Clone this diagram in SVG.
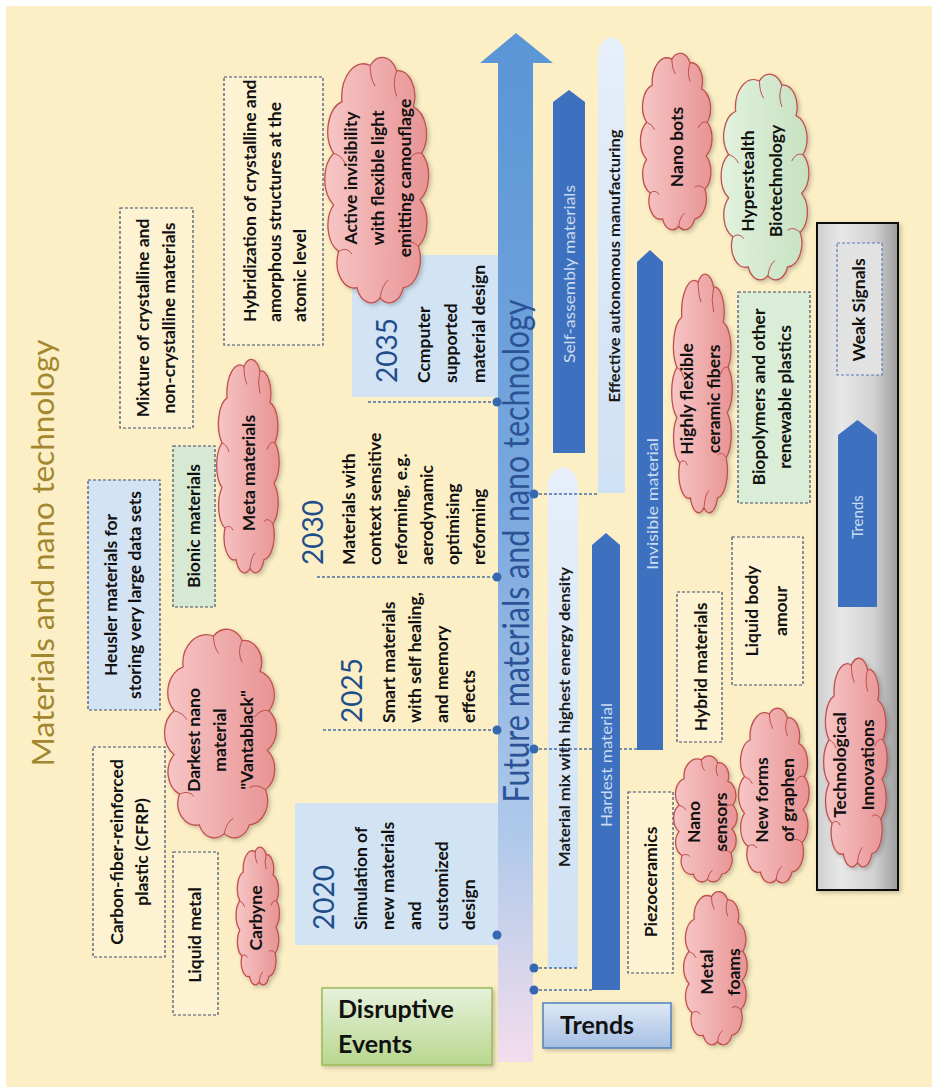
<svg xmlns="http://www.w3.org/2000/svg" width="936" height="1090" viewBox="0 0 936 1090">
<defs>
<style>
.t{font-family:Lato,"Liberation Sans",sans-serif;font-weight:700;font-size:17.5px;fill:#111}
.yr{font-family:Lato,"Liberation Sans",sans-serif;font-weight:400;font-size:28px;fill:#1F4E8C}
.bt{font-family:Lato,"Liberation Sans",sans-serif;font-weight:400;font-size:15px;fill:#CBDBF0}
.bd{font-family:Lato,"Liberation Sans",sans-serif;font-weight:700;font-size:15.5px;fill:#1A1A1A}
.ttl{font-family:Lato,"Liberation Sans",sans-serif;font-weight:400;font-size:31px;fill:#A3872F}
.sht{font-family:Lato,"Liberation Sans",sans-serif;font-weight:400;font-size:36px;fill:#2C5395}
.big{font-family:Lato,"Liberation Sans",sans-serif;font-weight:700;font-size:25px;fill:#111}
.dbox{fill:#FDF3D3;stroke:#3E4E6E;stroke-width:1.2;stroke-dasharray:3 2}
.cl{fill:url(#pink);stroke:#C0504D;stroke-width:1.3}
.clg{fill:url(#green);stroke:#C0504D;stroke-width:1.3}
.cin{fill:none;stroke:#C0504D;stroke-width:1}
.dark{fill:#3D71BF}
.light{fill:url(#lightbar)}
.dash{stroke:#4A6FA5;stroke-width:1.3;stroke-dasharray:3 2;fill:none}
.dot{fill:#3568B0}
.yb{fill:#D2E3F3}
</style>
<linearGradient id="pink" x1="0" y1="0" x2="1" y2="0">
<stop offset="0" stop-color="#F7C6C6"/><stop offset="1" stop-color="#E89393"/>
</linearGradient>
<linearGradient id="green" x1="0" y1="0" x2="1" y2="0">
<stop offset="0" stop-color="#E2F2DE"/><stop offset="1" stop-color="#C6E1C0"/>
</linearGradient>
<linearGradient id="lightbar" x1="0" y1="0" x2="0" y2="1">
<stop offset="0" stop-color="#E6EFFA"/><stop offset="1" stop-color="#CFE1F4"/>
</linearGradient>
<linearGradient id="shaft" gradientUnits="userSpaceOnUse" x1="0" y1="33" x2="0" y2="1062">
<stop offset="0" stop-color="#5A95D6"/><stop offset="0.45" stop-color="#78A7DE"/><stop offset="0.78" stop-color="#AFC9EA"/><stop offset="1" stop-color="#F3DDEC"/>
</linearGradient>
<linearGradient id="panel" x1="0" y1="0" x2="1" y2="0">
<stop offset="0" stop-color="#CFCFCF"/><stop offset="0.3" stop-color="#E8E8E8"/><stop offset="0.7" stop-color="#D2D2D2"/><stop offset="1" stop-color="#9C9C9C"/>
</linearGradient>
<linearGradient id="greenbox" x1="0" y1="0" x2="0" y2="1">
<stop offset="0" stop-color="#E6F1DA"/><stop offset="1" stop-color="#B9D78F"/>
</linearGradient>
<linearGradient id="bluebox" x1="0" y1="0" x2="0" y2="1">
<stop offset="0" stop-color="#DDE8F6"/><stop offset="1" stop-color="#A5BFE2"/>
</linearGradient>
<filter id="sh" x="-20%" y="-20%" width="140%" height="140%">
<feDropShadow dx="2" dy="2" stdDeviation="2" flood-color="#000" flood-opacity="0.22"/>
</filter>
<path id="cloud" vector-effect="non-scaling-stroke" d="M26,6 A10,10 0 0 1 42,8 A10,10 0 0 1 52,22 A11,11 0 0 1 57,40 A11,11 0 0 1 56,58 A11,11 0 0 1 55,76 A11,11 0 0 1 46,92 A9,9 0 0 1 32,96 A9,9 0 0 1 18,92 A10,10 0 0 1 7,78 A11,11 0 0 1 4,60 A12,12 0 0 1 4,40 A12,12 0 0 1 9,20 A13,13 0 0 1 26,6 Z"/>
<path id="cloudIn" vector-effect="non-scaling-stroke" d="M42,8 q-3,5 0,10 M57,40 q-5,-1 -8,3 M55,76 q-5,-3 -9,-1 M32,96 q1,-5 5,-7 M7,78 q5,-2 8,1 M4,40 q5,1 7,4 M26,6 q0,5 3,8"/>
</defs>

<rect x="0" y="0" width="936" height="1090" fill="#FFFFFF"/>
<rect x="6" y="6" width="926" height="1081" fill="#FCEFC6"/>

<g id="title">
<text class="ttl" transform="translate(54,553) rotate(-90)" text-anchor="middle" textLength="427" lengthAdjust="spacingAndGlyphs">Materials and nano technology</text>
</g>

<!-- Year boxes -->
<g id="y2020">
<rect class="yb" x="295" y="803" width="203" height="142"/>
<text class="yr" transform="translate(334,930) rotate(-90)">2020</text>
<text class="t" transform="translate(367,930) rotate(-90)"><tspan x="0" y="0">Simulation of</tspan><tspan x="0" y="27">new materials</tspan><tspan x="0" y="54">and</tspan><tspan x="0" y="81">customized</tspan><tspan x="0" y="108">design</tspan></text>
</g>
<g id="y2025">
<text class="yr" transform="translate(362,723) rotate(-90)">2025</text>
<text class="t" transform="translate(395,723) rotate(-90)"><tspan x="0" y="0">Smart materials</tspan><tspan x="0" y="26">with self healing,</tspan><tspan x="0" y="53">and memory</tspan><tspan x="0" y="80">effects</tspan></text>
</g>
<g id="y2030">
<text class="yr" transform="translate(323,565) rotate(-90)">2030</text>
<text class="t" transform="translate(355,565) rotate(-90)"><tspan x="0" y="0">Materials with</tspan><tspan x="0" y="26">context sensitive</tspan><tspan x="0" y="52">reforming, e.g.</tspan><tspan x="0" y="78">aerodynamic</tspan><tspan x="0" y="104">optimising</tspan><tspan x="0" y="130">reforming</tspan></text>
</g>
<g id="y2035">
<rect class="yb" x="352" y="255" width="148" height="142"/>
<text class="yr" transform="translate(397,383) rotate(-90)">2035</text>
<text class="t" transform="translate(430,383) rotate(-90)"><tspan x="0" y="0">Ccmputer</tspan><tspan x="0" y="27">supported</tspan><tspan x="0" y="55">material design</tspan></text>
</g>

<!-- Main shaft -->
<g id="shaft-arrow">
<path d="M498,1062 V63 H480 L516,33 L553,63 H533 V1062 Z" fill="url(#shaft)"/>
<text class="sht" transform="translate(529,551) rotate(-90)" text-anchor="middle" textLength="503" lengthAdjust="spacingAndGlyphs">Future materials and nano technology</text>
</g>

<!-- Trend bars -->
<g id="bar-effective">
<path class="light" d="M598,493 V57 Q598,40 611.5,37 Q625,40 625,57 V493 Z"/>
<text class="bd" transform="translate(620,266) rotate(-90)" text-anchor="middle" textLength="273" lengthAdjust="spacingAndGlyphs">Effective autonomous manufacturing</text>
</g>
<g id="bar-selfassembly">
<path class="dark" d="M553,453 V102 L569,90 L585,102 V453 Z"/>
<text class="bt" transform="translate(575,274) rotate(-90)" text-anchor="middle" textLength="178" lengthAdjust="spacingAndGlyphs">Self-assembly materials</text>
</g>
<g id="bar-materialmix">
<path class="light" d="M548,968 V487 Q548,470 563,467 Q578,470 578,487 V968 Z"/>
<text class="bd" transform="translate(570,717) rotate(-90)" text-anchor="middle" textLength="300" lengthAdjust="spacingAndGlyphs">Material mix with highest energy density</text>
</g>
<g id="bar-hardest">
<path class="dark" d="M592,990 V545 L606,533 L620,545 V990 Z"/>
<text class="bt" transform="translate(612,765) rotate(-90)" text-anchor="middle" textLength="124" lengthAdjust="spacingAndGlyphs">Hardest material</text>
</g>
<g id="bar-invisible">
<path class="dark" d="M637,750 V262 L650,250 L663,262 V750 Z"/>
<text class="bt" transform="translate(658,504) rotate(-90)" text-anchor="middle" textLength="132" lengthAdjust="spacingAndGlyphs">Invisible material</text>
</g>

<!-- Connectors -->
<g id="connectors">
<line class="dash" x1="323" y1="730" x2="497" y2="730"/>
<line class="dash" x1="317" y1="577" x2="497" y2="577"/>
<line class="dash" x1="368" y1="402" x2="497" y2="402"/>
<line class="dash" x1="534" y1="968" x2="578" y2="968"/>
<line class="dash" x1="534" y1="990" x2="592" y2="990"/>
<line class="dash" x1="534" y1="749" x2="637" y2="749"/>
<line class="dash" x1="534" y1="494" x2="598" y2="494"/>
<circle class="dot" cx="497" cy="935" r="4.5"/>
<circle class="dot" cx="497" cy="730" r="4.5"/>
<circle class="dot" cx="497" cy="577" r="4.5"/>
<circle class="dot" cx="497" cy="402" r="4.5"/>
<circle class="dot" cx="534" cy="968" r="4.5"/>
<circle class="dot" cx="534" cy="990" r="4.5"/>
<circle class="dot" cx="534" cy="749" r="4.5"/>
<circle class="dot" cx="534" cy="494" r="4.5"/>
</g>

<!-- Left dashed boxes -->
<g id="n-cfrp">
<rect class="dbox" x="93" y="747" width="72" height="210"/>
<text class="t" transform="translate(123,852) rotate(-90)" text-anchor="middle"><tspan x="0" y="0">Carbon-fiber-reinforced</tspan><tspan x="0" y="25">plastic (CFRP)</tspan></text>
</g>
<g id="n-liquidmetal">
<rect class="dbox" x="173" y="852" width="45" height="163"/>
<text class="t" transform="translate(201,935) rotate(-90)" text-anchor="middle">Liquid metal</text>
</g>
<g id="n-heusler">
<rect class="dbox" x="88" y="480" width="72" height="230" style="fill:#D4E3F3"/>
<text class="t" transform="translate(117,595) rotate(-90)" text-anchor="middle"><tspan x="0" y="0">Heusler materials for</tspan><tspan x="0" y="24">storing very large data sets</tspan></text>
</g>
<g id="n-bionic">
<rect class="dbox" x="173" y="446" width="42" height="161" style="fill:#D7E9D2"/>
<text class="t" transform="translate(200,526) rotate(-90)" text-anchor="middle">Bionic materials</text>
</g>
<g id="n-mixture">
<rect class="dbox" x="120" y="208" width="73" height="220"/>
<text class="t" transform="translate(149,318) rotate(-90)" text-anchor="middle"><tspan x="0" y="0">Mixture of crystalline and</tspan><tspan x="0" y="26">non-crystalline materials</tspan></text>
</g>
<g id="n-hybridization">
<rect class="dbox" x="224" y="77" width="99" height="268"/>
<text class="t" transform="translate(256,322) rotate(-90)"><tspan x="0" y="0">Hybridization of crystalline and</tspan><tspan x="0" y="25">amorphous structures at the</tspan><tspan x="0" y="50">atomic level</tspan></text>
</g>

<!-- Left clouds -->
<g id="n-darkest">
<g filter="url(#sh)"><use href="#cloud" class="cl" transform="translate(167,623) scale(1.79,2.194)"/></g>
<use href="#cloudIn" class="cin" transform="translate(167,623) scale(1.79,2.194)"/>
<text class="t" transform="translate(200,740) rotate(-90)" text-anchor="middle"><tspan x="0" y="0">Darkest nano</tspan><tspan x="0" y="26">material</tspan><tspan x="0" y="53">"Vantablack"</tspan></text>
</g>
<g id="n-carbyne">
<g filter="url(#sh)"><use href="#cloud" class="cl" transform="translate(237,843) scale(0.694,1.449)"/></g>
<use href="#cloudIn" class="cin" transform="translate(237,843) scale(0.694,1.449)"/>
<text class="t" transform="translate(262,918) rotate(-90)" text-anchor="middle">Carbyne</text>
</g>
<g id="n-meta">
<g filter="url(#sh)"><use href="#cloud" class="cl" transform="translate(218,353) scale(1,2.245)"/></g>
<use href="#cloudIn" class="cin" transform="translate(218,353) scale(1,2.245)"/>
<text class="t" transform="translate(255,473) rotate(-90)" text-anchor="middle">Meta  materials</text>
</g>
<g id="n-active">
<g filter="url(#sh)"><use href="#cloud" class="cl" transform="translate(327,50) scale(1.661,2.582)"/></g>
<use href="#cloudIn" class="cin" transform="translate(327,50) scale(1.661,2.582)"/>
<text class="t" transform="translate(357,178) rotate(-90)" text-anchor="middle"><tspan x="0" y="0">Active invisibility</tspan><tspan x="0" y="27">with flexible light</tspan><tspan x="0" y="54">emitting camouflage</tspan></text>
</g>

<!-- Right clouds and boxes -->
<g id="n-nanobots">
<g filter="url(#sh)"><use href="#cloud" class="cl" transform="translate(642,48) scale(1.145,1.857)"/></g>
<use href="#cloudIn" class="cin" transform="translate(642,48) scale(1.145,1.857)"/>
<text class="t" transform="translate(683,147) rotate(-90)" text-anchor="middle">Nano bots</text>
</g>
<g id="n-hyperstealth">
<g filter="url(#sh)"><use href="#cloud" class="clg" transform="translate(723,68) scale(1.403,2.163)"/></g>
<use href="#cloudIn" class="cin" transform="translate(723,68) scale(1.403,2.163)"/>
<text class="t" transform="translate(754,181) rotate(-90)" text-anchor="middle"><tspan x="0" y="0">Hyperstealth</tspan><tspan x="0" y="28">Biotechnology</tspan></text>
</g>
<g id="n-highlyflexible">
<g filter="url(#sh)"><use href="#cloud" class="cl" transform="translate(673,267) scale(0.968,2.51)"/></g>
<use href="#cloudIn" class="cin" transform="translate(673,267) scale(0.968,2.51)"/>
<text class="t" transform="translate(693,399) rotate(-90)" text-anchor="middle"><tspan x="0" y="0">Highly flexible</tspan><tspan x="0" y="27">ceramic fibers</tspan></text>
</g>
<g id="n-biopolymers">
<rect class="dbox" x="738" y="292" width="72" height="211" style="fill:#DAEDD6"/>
<text class="t" transform="translate(765,397) rotate(-90)" text-anchor="middle"><tspan x="0" y="0">Biopolymers and other</tspan><tspan x="0" y="26">renewable plastics</tspan></text>
</g>
<g id="n-liquidbody">
<rect class="dbox" x="732" y="537" width="71" height="148"/>
<text class="t" transform="translate(758,611) rotate(-90)" text-anchor="middle"><tspan x="0" y="0">Liquid body</tspan><tspan x="0" y="29">amour</tspan></text>
</g>
<g id="n-hybrid">
<rect class="dbox" x="677" y="592" width="45" height="150"/>
<text class="t" transform="translate(707,667) rotate(-90)" text-anchor="middle">Hybrid materials</text>
</g>
<g id="n-piezo">
<rect class="dbox" x="628" y="792" width="45" height="181"/>
<text class="t" transform="translate(657,882) rotate(-90)" text-anchor="middle">Piezoceramics</text>
</g>
<g id="n-nanosensors">
<g filter="url(#sh)"><use href="#cloud" class="cl" transform="translate(675,752) scale(1.016,1.327)"/></g>
<use href="#cloudIn" class="cin" transform="translate(675,752) scale(1.016,1.327)"/>
<text class="t" transform="translate(700,822) rotate(-90)" text-anchor="middle"><tspan x="0" y="0">Nano</tspan><tspan x="0" y="27">sensors</tspan></text>
</g>
<g id="n-newforms">
<g filter="url(#sh)"><use href="#cloud" class="cl" transform="translate(740,703) scale(1.129,1.837)"/></g>
<use href="#cloudIn" class="cin" transform="translate(740,703) scale(1.129,1.837)"/>
<text class="t" transform="translate(768,800) rotate(-90)" text-anchor="middle"><tspan x="0" y="0">New forms</tspan><tspan x="0" y="26">of graphen</tspan></text>
</g>
<g id="n-metalfoams">
<g filter="url(#sh)"><use href="#cloud" class="cl" transform="translate(685,887) scale(1.016,1.612)"/></g>
<use href="#cloudIn" class="cin" transform="translate(685,887) scale(1.016,1.612)"/>
<text class="t" transform="translate(713,972) rotate(-90)" text-anchor="middle"><tspan x="0" y="0">Metal</tspan><tspan x="0" y="27">foams</tspan></text>
</g>

<!-- Legend panel -->
<g id="legend">
<rect x="817" y="223" width="81" height="667" fill="url(#panel)" stroke="#111" stroke-width="2" filter="url(#sh)"/>
</g>
<g id="n-weaksignals">
<rect class="dbox" x="837" y="243" width="45" height="132" style="fill:#E2E2E2;stroke:#5B7DB8"/>
<text class="t" transform="translate(865,310) rotate(-90)" text-anchor="middle">Weak Signals</text>
</g>
<g id="n-trends-arrow">
<path class="dark" d="M838,607 V435 L857.5,420 L877,435 V607 Z"/>
<text class="bt" transform="translate(863,517) rotate(-90)" text-anchor="middle">Trends</text>
</g>
<g id="n-techinnov">
<g filter="url(#sh)"><use href="#cloud" class="cl" transform="translate(825,652) scale(1.016,2.194)"/></g>
<use href="#cloudIn" class="cin" transform="translate(825,652) scale(1.016,2.194)"/>
<text class="t" transform="translate(846,765) rotate(-90)" text-anchor="middle"><tspan x="0" y="0">Technological</tspan><tspan x="0" y="28">Innovations</tspan></text>
</g>

<!-- Bottom labels -->
<g id="n-disruptive">
<rect x="322" y="988" width="170" height="77" fill="url(#greenbox)" stroke="#9BBB59" stroke-width="1.5" filter="url(#sh)"/>
<text class="big" x="338" y="1018">Disruptive</text>
<text class="big" x="338" y="1053">Events</text>
</g>
<g id="n-trends">
<rect x="543" y="1003" width="128" height="45" fill="url(#bluebox)" stroke="#4F81BD" stroke-width="1.5" filter="url(#sh)"/>
<text class="big" x="560" y="1034">Trends</text>
</g>
</svg>
